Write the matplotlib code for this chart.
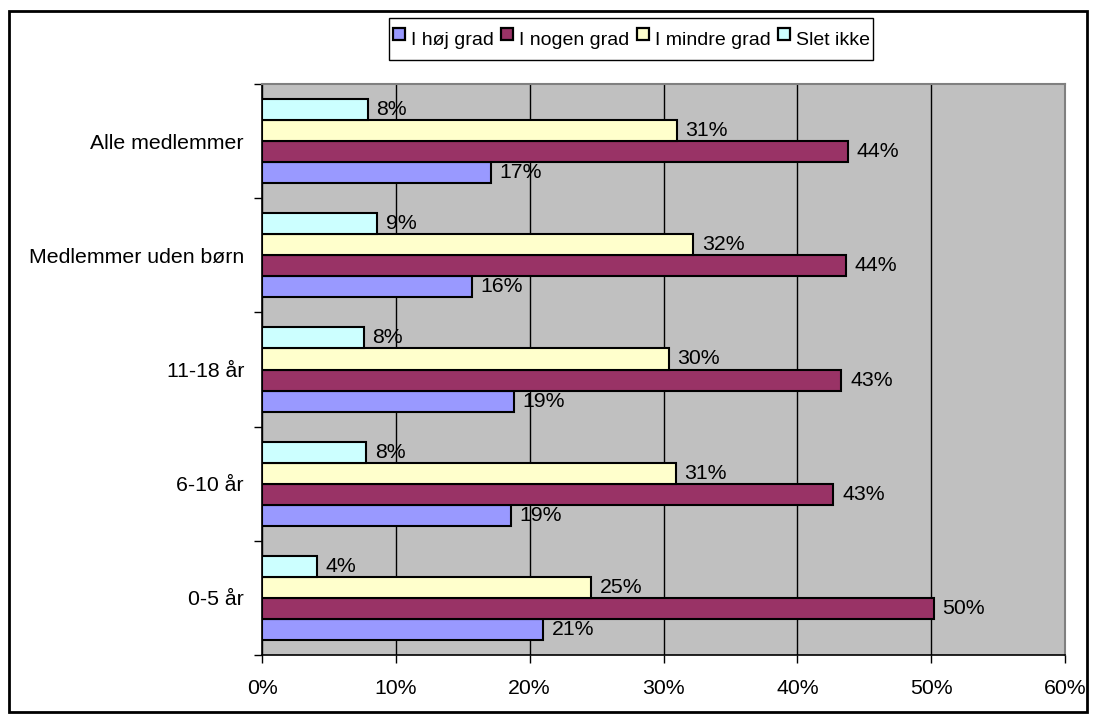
import numpy as np
import matplotlib
matplotlib.use("Agg")
import matplotlib.pyplot as plt
from matplotlib.lines import Line2D
from matplotlib.patches import Rectangle

plt.rcParams['font.family'] = ['Liberation Sans', 'DejaVu Sans']

categories = ['0-5 år', '6-10 år', '11-18 år', 'Medlemmer uden børn', 'Alle medlemmer']
series_names = ['I høj grad', 'I nogen grad', 'I mindre grad', 'Slet ikke']
hoej = [21.0, 18.6, 18.8, 15.7, 17.1]
nogen = [50.2, 42.7, 43.3, 43.6, 43.8]
mindre = [24.6, 30.9, 30.4, 32.2, 31.0]
slet = [4.1, 7.8, 7.6, 8.6, 7.9]
colors = ['#9999FF', '#993366', '#FFFFCC', '#CCFFFF']

fig = plt.figure(figsize=(10.97, 7.22), dpi=100)
ax = fig.add_axes([262/1097, 67/722, (1065-262)/1097, (655-84)/722])
ax.set_facecolor('#C0C0C0')

fs = 15.3
y = np.arange(len(categories))
h = 0.184
all_series = [hoej, nogen, mindre, slet]
for i, vals in enumerate(all_series):
    pos = y + (i - 1.5) * h
    ax.barh(pos, vals, height=h, color=colors[i], edgecolor='black', linewidth=1.5, zorder=3)
    for p, v in zip(pos, vals):
        ax.text(v + 0.65, p, '%d%%' % round(v), va='center', ha='left', fontsize=fs, zorder=4)

ax.set_xlim(0, 60)
ax.set_ylim(-0.5, len(categories) - 0.5)
ax.set_xticks(range(0, 61, 10))
ax.set_xticklabels(['%d%%' % t for t in range(0, 61, 10)], fontsize=fs)
ax.xaxis.grid(True, color='black', linewidth=1, zorder=1)
ax.set_axisbelow(True)

ax.set_yticks(np.arange(-0.5, len(categories), 1.0))
ax.set_yticklabels([])
ax.set_yticks(y, minor=True)
ax.set_yticklabels(categories, minor=True, fontsize=fs)
ax.tick_params(axis='y', which='minor', length=0, pad=13)
ax.tick_params(axis='y', which='major', length=6, width=1, direction='out')
ax.tick_params(axis='x', length=6, width=1, direction='out', pad=11)

for s in ['top', 'right']:
    ax.spines[s].set_color('#808080')
    ax.spines[s].set_linewidth(1.5)
for s in ['left', 'bottom']:
    ax.spines[s].set_color('black')
    ax.spines[s].set_linewidth(1.2)

# legend: square markers, tall rows to get the roomy Excel box
handles = [Line2D([], [], marker='s', linestyle='none', markersize=8.5,
                  markerfacecolor=c, markeredgecolor='black', markeredgewidth=1.6)
           for c in colors]
fig.legend(handles, series_names, loc='center', bbox_to_anchor=(631/1097, 1 - 39/722),
           ncol=4, fontsize=14, frameon=True, fancybox=False, edgecolor='black',
           handlelength=0.7, handleheight=2.3, handletextpad=0.25, columnspacing=0.35,
           borderpad=0.2, borderaxespad=0, framealpha=1)

fig.patches.append(Rectangle((9/1097, 10/722), (1087-9)/1097, (711-10)/722,
                             transform=fig.transFigure, fill=False, edgecolor='black', linewidth=2))

fig.savefig('out.png', dpi=100)
